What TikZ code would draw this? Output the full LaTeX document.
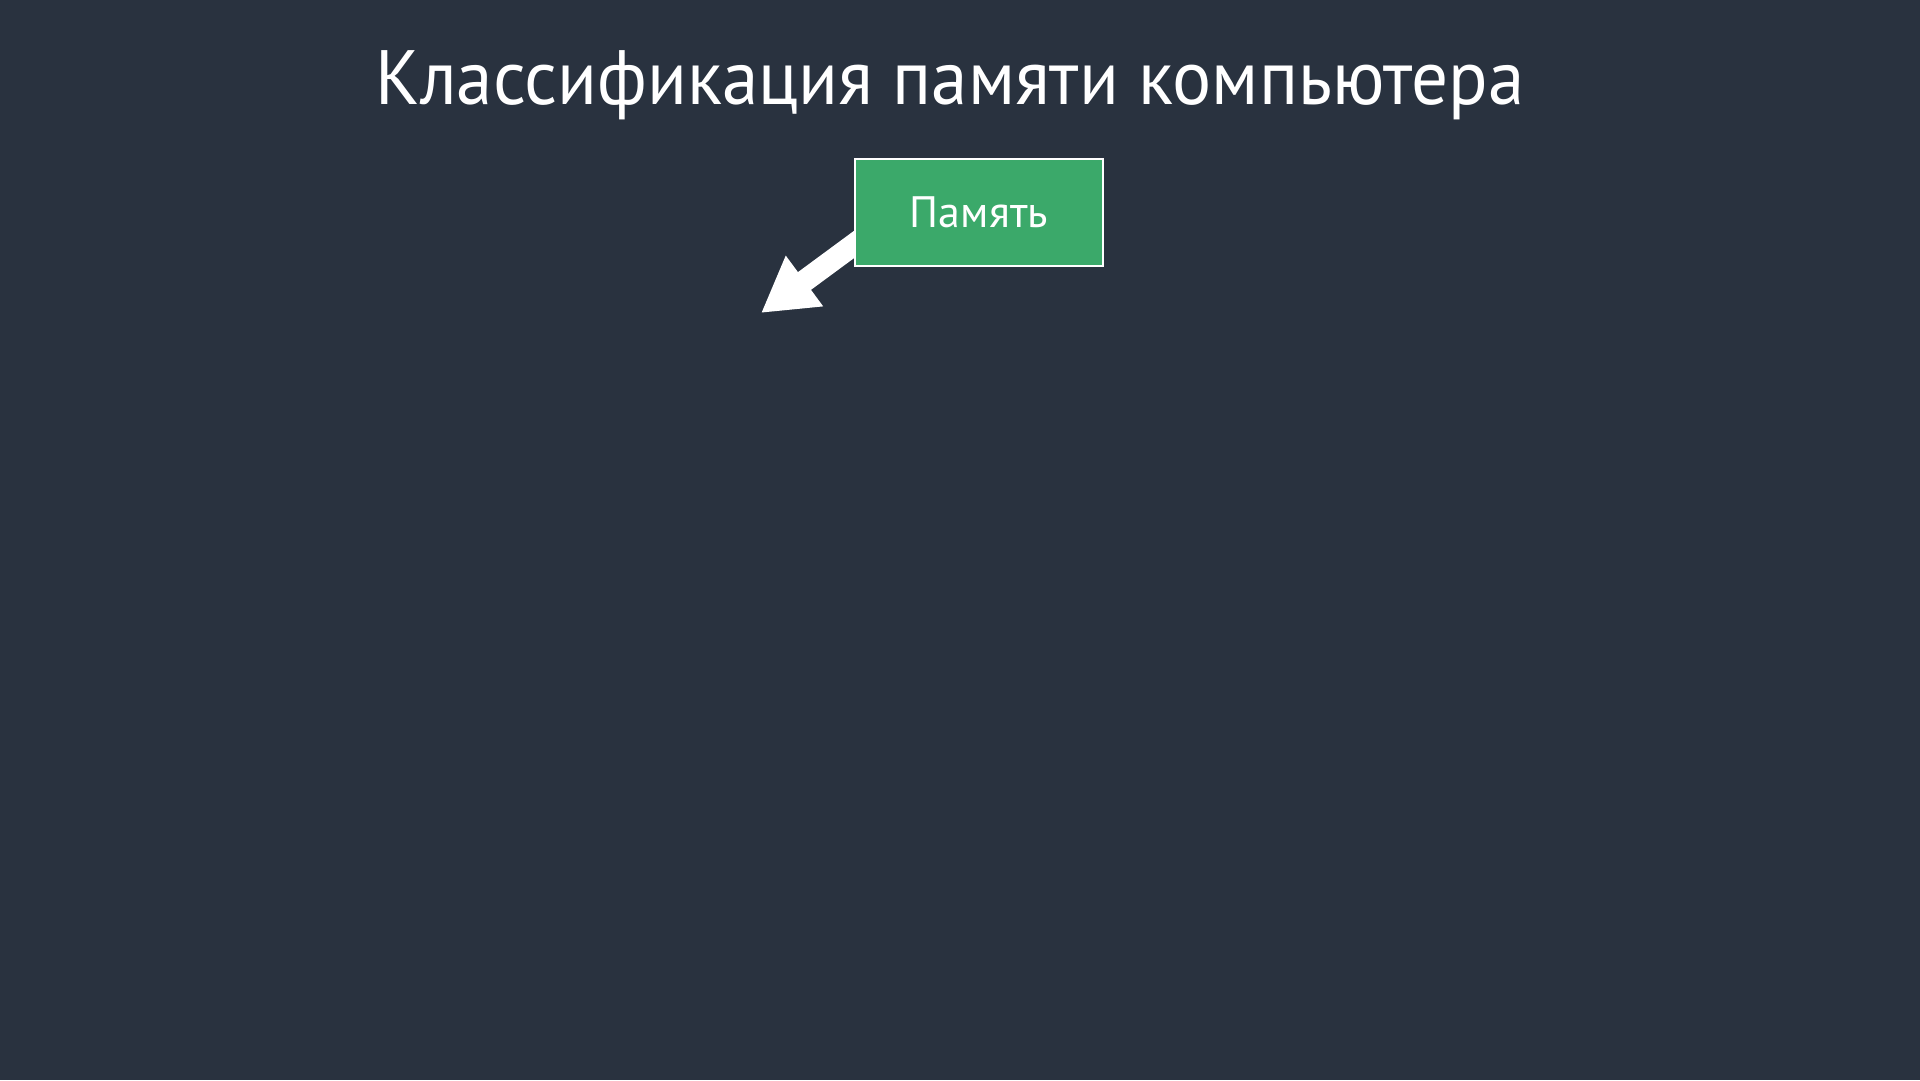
\documentclass[tikz,border=0pt]{standalone}
\usepackage{fontspec}
\setmainfont{PT Sans}
\usetikzlibrary{arrows.meta}
\definecolor{bgnavy}{HTML}{29323F}
\definecolor{boxgreen}{HTML}{3BA96A}
\tikzset{
  titletext/.style={text=white, font=\fontsize{77}{92}\selectfont, anchor=base, inner sep=0pt, xscale=0.95},
  membox/.style={draw=white, line width=2pt, fill=boxgreen, text=white, minimum width=248pt, minimum height=107pt, inner sep=0pt, font=\fontsize{44}{52}\selectfont},
  bigarrow/.style={white, line width=22pt, -{Triangle[width=59pt,length=54pt]}}
}
\begin{document}
\begin{tikzpicture}[x=1pt,y=-1pt]
\fill[bgnavy] (0,0) rectangle (1920,1080);
\useasboundingbox (0,0) rectangle (1920,1080);
\node[titletext] (title) at (950,104) {Классификация памяти компьютера};
\coordinate (arrstart) at (870,232.7);
\coordinate (arrtip) at (761,313);
\draw[bigarrow] (arrstart) -- (arrtip);
\node[membox] (mem) at (979,212.5) {Память};
\end{tikzpicture}
\end{document}
